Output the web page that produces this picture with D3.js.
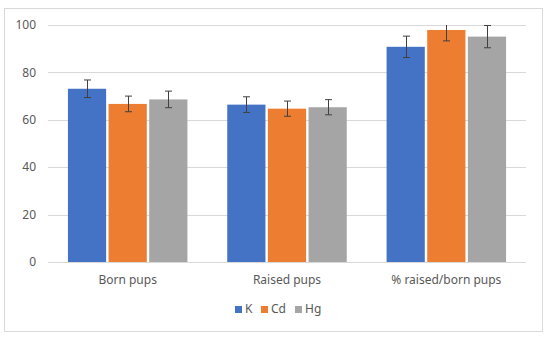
<!DOCTYPE html>
<html>
<head>
<meta charset="utf-8">
<script src="https://cdn.jsdelivr.net/npm/d3@7"></script>
<style>
  body { margin: 0; background: #fff; }
  text { font-family: "Noto Sans", "Open Sans", sans-serif; }
</style>
</head>
<body>
<div id="chart"></div>
<script>
// categories and series
var categories = ['Born pups', 'Raised pups', '% raised/born pups'];
var series = ['K', 'Cd', 'Hg'];
var colors = ['#4472C4', '#ED7D31', '#A5A5A5'];

// values per series (same order as categories)
var k_values  = [73.1, 66.4, 90.8];
var cd_values = [66.7, 64.7, 97.9];
var hg_values = [68.6, 65.3, 95.1];

// error bar half-widths
var k_err  = [3.7, 3.3, 4.5];
var cd_err = [3.3, 3.2, 4.6];
var hg_err = [3.5, 3.2, 4.7];

var y_ticks = [0, 20, 40, 60, 80, 100];

var width = 550;
var height = 339;
var margin = ({ top: 25, right: 22, bottom: 77, left: 48 });

var values = [k_values, cd_values, hg_values];
var errors = [k_err, cd_err, hg_err];

var rows = [];
series.forEach(function(s, si) {
    categories.forEach(function(c, ci) {
        rows.push({ series: s, si: si, category: c, value: values[si][ci], err: errors[si][ci] });
    });
});

var svg = d3.select('#chart')
    .append('svg')
    .attr('width', width)
    .attr('height', height);

// outer frame
svg.append('rect')
    .attr('x', 4.5)
    .attr('y', 8.5)
    .attr('width', 538)
    .attr('height', 323)
    .attr('fill', '#fff')
    .attr('stroke', '#D9D9D9')
    .attr('stroke-width', 1);

var x0 = d3.scaleBand()
    .domain(categories)
    .range([margin.left, width - margin.right - 2])
    .paddingInner(0.25)
    .paddingOuter(0.125);

var x1 = d3.scaleBand()
    .domain(series)
    .range([0, x0.bandwidth()])
    .paddingInner(0.06);

var y = d3.scaleLinear()
    .domain([0, 100])
    .range([262, 25]);

// gridlines
svg.append('g')
    .selectAll('line')
    .data(y_ticks)
    .enter()
    .append('line')
    .attr('x1', margin.left)
    .attr('x2', width - margin.right - 2)
    .attr('y1', function(d) { return Math.round(y(d)) + 0.5; })
    .attr('y2', function(d) { return Math.round(y(d)) + 0.5; })
    .attr('stroke', '#D9D9D9')
    .attr('stroke-width', 1);

// y tick labels
svg.append('g')
    .selectAll('text')
    .data(y_ticks)
    .enter()
    .append('text')
    .attr('x', 36)
    .attr('y', function(d) { return y(d); })
    .attr('dy', '0.35em')
    .attr('text-anchor', 'end')
    .style('font-size', '12px')
    .style('fill', '#595959')
    .text(function(d) { return d; });

// bars
svg.append('g')
    .selectAll('rect')
    .data(rows)
    .enter()
    .append('rect')
    .attr('x', function(d) { return x0(d.category) + x1(d.series); })
    .attr('width', x1.bandwidth())
    .attr('y', function(d) { return y(d.value); })
    .attr('height', function(d) { return y(0) - y(d.value); })
    .attr('fill', function(d) { return colors[d.si]; });

// error bars (clipped to the axis maximum like Excel does)
var err_group = svg.append('g')
    .attr('stroke', '#404040')
    .attr('stroke-width', 1);

rows.forEach(function(d) {
    var cx = Math.round(x0(d.category) + x1(d.series) + x1.bandwidth() / 2) + 0.5;
    var top = d.value + d.err;
    var bottom = d.value - d.err;
    var clipped = top > 100;
    var ty = y(Math.min(top, 100));
    var by = y(bottom);
    err_group.append('line')
        .attr('x1', cx).attr('x2', cx)
        .attr('y1', ty).attr('y2', by);
    if (!clipped) {
        err_group.append('line')
            .attr('x1', cx - 3.5).attr('x2', cx + 3.5)
            .attr('y1', ty).attr('y2', ty);
    }
    err_group.append('line')
        .attr('x1', cx - 3.5).attr('x2', cx + 3.5)
        .attr('y1', by).attr('y2', by);
});

// category labels
svg.append('g')
    .selectAll('text')
    .data(categories)
    .enter()
    .append('text')
    .attr('x', function(d) { return x0(d) + x0.bandwidth() / 2; })
    .attr('y', 280)
    .attr('dy', '0.35em')
    .attr('text-anchor', 'middle')
    .style('font-size', '12px')
    .style('fill', '#595959')
    .text(function(d) { return d; });

// legend
var legend_x = [235, 261, 295];
var legend = svg.append('g');
series.forEach(function(s, i) {
    legend.append('rect')
        .attr('x', legend_x[i])
        .attr('y', 306)
        .attr('width', 7)
        .attr('height', 7)
        .attr('fill', colors[i]);
    legend.append('text')
        .attr('x', legend_x[i] + 10)
        .attr('y', 309)
        .attr('dy', '0.35em')
        .style('font-size', '12px')
        .style('fill', '#595959')
        .text(s);
});
</script>
</body>
</html>
